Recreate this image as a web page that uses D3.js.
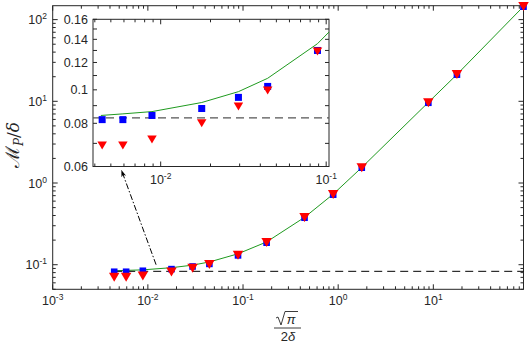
<!DOCTYPE html>
<html><head><meta charset="utf-8">
<script src="https://cdn.jsdelivr.net/npm/d3@7"></script>
<style>
body{margin:0;background:#fff;}
text{font-family:"Liberation Sans",Arial,sans-serif;fill:#262626;}
</style></head>
<body><svg id="c" width="531" height="342"></svg>
<script>
// ---- data ----
const xVals = [0.00443, 0.00591, 0.00886, 0.0177, 0.0295, 0.0443, 0.0886, 0.177, 0.443, 0.886, 1.77, 8.86, 17.7, 88.6];
const squareVals = [0.082, 0.082, 0.0843, 0.0883, 0.0951, 0.1023, 0.130, 0.186, 0.376, 0.72, 1.54, 9.6, 21.2, 144];
const triangleVals = [0.069, 0.069, 0.0718, 0.080, 0.0895, 0.0995, 0.129, 0.184, 0.372, 0.715, 1.52, 9.5, 21.0, 143];
const lineX = [0.00435, 0.00591, 0.00886, 0.0177, 0.0295, 0.0443, 0.0886, 0.177, 0.443, 0.886, 1.77, 8.86, 17.7, 88.6];
const lineVals = [0.0843, 0.0852, 0.0865, 0.0919, 0.0988, 0.108, 0.136, 0.19, 0.38, 0.73, 1.55, 9.7, 21.3, 145];
const dashedLevel = 0.083;
const mainXTicks = [-3, -2, -1, 0, 1];
const mainYTicks = [-1, 0, 1, 2];
const insetYTicks = [0.06, 0.08, 0.1, 0.12, 0.14, 0.16];
const insetYLabels = ["0.06", "0.08", "0.1", "0.12", "0.14", "0.16"];
const insetXTicks = [-2, -1];
const arrowFrom = [0.0122, 0.1];
const arrowTo = [0.0053, 1.42];

const svg = d3.select("#c");
const defs = svg.append("defs");
defs.append("marker").attr("id","ah").attr("viewBox","0 0 10 10").attr("refX",9).attr("refY",5)
  .attr("markerWidth",7).attr("markerHeight",7).attr("orient","auto")
  .append("path").attr("d","M0,1.5 L10,5 L0,8.5 L2.5,5 Z").attr("fill","#000");

const green = "#1f9a1f";
function triPath(w,h){return `M${-w/2},${-h/2} L${w/2},${-h/2} L0,${h/2} Z`;}

function minorTicks(lo, hi){ // log minor ticks
  const t=[]; for(let e=Math.floor(Math.log10(lo)); e<=Math.ceil(Math.log10(hi)); e++){
    for(let m=1;m<10;m++){const v=m*Math.pow(10,e); if(v>=lo*0.9999 && v<=hi*1.0001) t.push({v, major:m===1});}
  } return t;
}

// ---- main axes ----
const L=52.7,R=523.5,T=5.7,B=289.3;
const x = d3.scaleLog().domain([1e-3, 88.6]).range([L,R]);
const y = d3.scaleLog().domain([0.05, 148]).range([B,T]);
const g = svg.append("g");
const frame = "#262626";

minorTicks(1e-3, 88.6).forEach(t=>{
  const len = t.major?5:3; const px=x(t.v);
  g.append("line").attr("x1",px).attr("x2",px).attr("y1",B).attr("y2",B-len).attr("stroke",frame);
  g.append("line").attr("x1",px).attr("x2",px).attr("y1",T).attr("y2",T+len).attr("stroke",frame);
});
minorTicks(0.05, 148).forEach(t=>{
  const len = t.major?5:3; const py=y(t.v);
  g.append("line").attr("x1",L).attr("x2",L+len).attr("y1",py).attr("y2",py).attr("stroke",frame);
  g.append("line").attr("x1",R).attr("x2",R-len).attr("y1",py).attr("y2",py).attr("stroke",frame);
});
g.append("rect").attr("x",L).attr("y",T).attr("width",R-L).attr("height",B-T).attr("fill","none").attr("stroke",frame).attr("stroke-width",1);

mainXTicks.forEach(e=>{
  const t=g.append("text").attr("x",x(Math.pow(10,e))).attr("y",305).attr("text-anchor","middle").attr("font-size",12.5);
  t.append("tspan").text("10");
  t.append("tspan").attr("dy",-5).attr("font-size",8.5).text(String(e));
});
mainYTicks.forEach(e=>{
  const t=g.append("text").attr("x",47).attr("y",y(Math.pow(10,e))+4.5).attr("text-anchor","end").attr("font-size",12.5);
  t.append("tspan").text("10");
  t.append("tspan").attr("dy",-5).attr("font-size",8.5).text(String(e));
});

// main data
const line = d3.line().x(d=>x(d[0])).y(d=>y(d[1]));
g.append("path").datum(lineX.map((v,i)=>[v,lineVals[i]])).attr("d",line).attr("fill","none").attr("stroke",green).attr("stroke-width",1);
g.append("line").attr("x1",x(xVals[0])).attr("x2",R).attr("y1",y(dashedLevel)).attr("y2",y(dashedLevel))
  .attr("stroke","#000").attr("stroke-dasharray","8,5").attr("stroke-width",1);
g.selectAll(".sq").data(xVals).enter().append("rect").attr("x",(d)=>x(d)-3.3).attr("y",(d,i)=>y(squareVals[i])-3.3)
  .attr("width",6.6).attr("height",6.6).attr("fill","#0000ff");
g.selectAll(".tr").data(xVals).enter().append("path").attr("d",triPath(10.5,9))
  .attr("transform",(d,i)=>`translate(${x(d)},${y(triangleVals[i])-0.5})`).attr("fill","#ff0000");

// arrow
g.append("line").attr("x1",x(arrowFrom[0])).attr("y1",y(arrowFrom[1])).attr("x2",x(arrowTo[0])).attr("y2",y(arrowTo[1]))
  .attr("stroke","#000").attr("stroke-width",1).attr("stroke-dasharray","6,2,1.5,2").attr("marker-end","url(#ah)");

// axis labels
const yl = svg.append("text").attr("transform","translate(19,145) rotate(-90)").attr("text-anchor","middle")
  .attr("font-family","DejaVu Sans, sans-serif").attr("font-size",19);
yl.append("tspan").text("ℳ");
yl.append("tspan").attr("font-family","DejaVu Serif, serif").attr("font-size",12).attr("dy",4).attr("font-style","italic").text("P");
yl.append("tspan").attr("font-family","DejaVu Serif, serif").attr("dy",-4).attr("font-size",17).text("/");
yl.append("tspan").attr("font-family","DejaVu Serif, serif").attr("font-style","italic").attr("font-size",17).text("δ");

const xlg = svg.append("g").attr("transform","translate(288,0)");
xlg.append("text").attr("x",3).attr("y",324).attr("text-anchor","middle").attr("font-family","DejaVu Serif, serif").attr("font-size",13)
  .attr("font-style","italic").text("π");
xlg.append("path").attr("d","M-12,318 L-10,317 L-7,325 L-3,311.5 L10,311.5").attr("fill","none").attr("stroke","#262626").attr("stroke-width",0.9);
xlg.append("line").attr("x1",-14).attr("x2",13).attr("y1",328).attr("y2",328).attr("stroke","#262626").attr("stroke-width",0.9);
const den = xlg.append("text").attr("x",0).attr("y",340.5).attr("text-anchor","middle").attr("font-family","DejaVu Serif, serif").attr("font-size",13);
den.append("tspan").text("2");
den.append("tspan").attr("font-style","italic").text("δ");

// ---- inset ----
const iL=93,iR=329,iT=19.3,iB=166.5;
const xi = d3.scaleLog().domain([0.0039, 0.104]).range([iL,iR]);
const yi = d3.scaleLog().domain([0.06, 0.16]).range([iB,iT]);
const gi = svg.append("g");
gi.append("rect").attr("x",iL).attr("y",iT).attr("width",iR-iL).attr("height",iB-iT).attr("fill","#fff");
const clip = defs.append("clipPath").attr("id","ic");
clip.append("rect").attr("x",iL).attr("y",iT).attr("width",iR-iL).attr("height",iB-iT);

minorTicks(0.0039, 0.104).forEach(t=>{
  const len = t.major?5:3; const px=xi(t.v);
  gi.append("line").attr("x1",px).attr("x2",px).attr("y1",iB).attr("y2",iB-len).attr("stroke",frame);
  gi.append("line").attr("x1",px).attr("x2",px).attr("y1",iT).attr("y2",iT+len).attr("stroke",frame);
});
d3.range(6,17).map(v=>v/100).forEach(v=>{
  const py=yi(v); const len=4;
  gi.append("line").attr("x1",iL).attr("x2",iL+len).attr("y1",py).attr("y2",py).attr("stroke",frame);
  gi.append("line").attr("x1",iR).attr("x2",iR-len).attr("y1",py).attr("y2",py).attr("stroke",frame);
});
gi.append("rect").attr("x",iL).attr("y",iT).attr("width",iR-iL).attr("height",iB-iT).attr("fill","none").attr("stroke",frame);
insetYTicks.forEach((v,i)=>{
  gi.append("text").attr("x",88).attr("y",yi(v)+4.5).attr("text-anchor","end").attr("font-size",12.5).text(insetYLabels[i]);
});
insetXTicks.forEach(e=>{
  const t=gi.append("text").attr("x",xi(Math.pow(10,e))).attr("y",184).attr("text-anchor","middle").attr("font-size",12.5);
  t.append("tspan").text("10");
  t.append("tspan").attr("dy",-5).attr("font-size",8.5).text(String(e));
});
const gc = gi.append("g").attr("clip-path","url(#ic)");
const linei = d3.line().x(d=>xi(d[0])).y(d=>yi(d[1]));
gc.append("path").datum(lineX.map((v,i)=>[v,lineVals[i]])).attr("d",linei).attr("fill","none").attr("stroke",green).attr("stroke-width",1);
gc.append("line").attr("x1",iL).attr("x2",iR).attr("y1",yi(dashedLevel)).attr("y2",yi(dashedLevel))
  .attr("stroke","#555").attr("stroke-dasharray","8,5").attr("stroke-width",1.2);
const inIdx = xVals.map((v,i)=>i).filter(i=>xVals[i]<0.104);
gc.selectAll(".sq").data(inIdx).enter().append("rect").attr("x",i=>xi(xVals[i])-3.5).attr("y",i=>yi(squareVals[i])-3.5)
  .attr("width",7).attr("height",7).attr("fill","#0000ff");
gc.selectAll(".tr").data(inIdx).enter().append("path").attr("d",triPath(9.5,8))
  .attr("transform",i=>`translate(${xi(xVals[i])},${yi(triangleVals[i])})`).attr("fill","#ff0000");
</script></body></html>
